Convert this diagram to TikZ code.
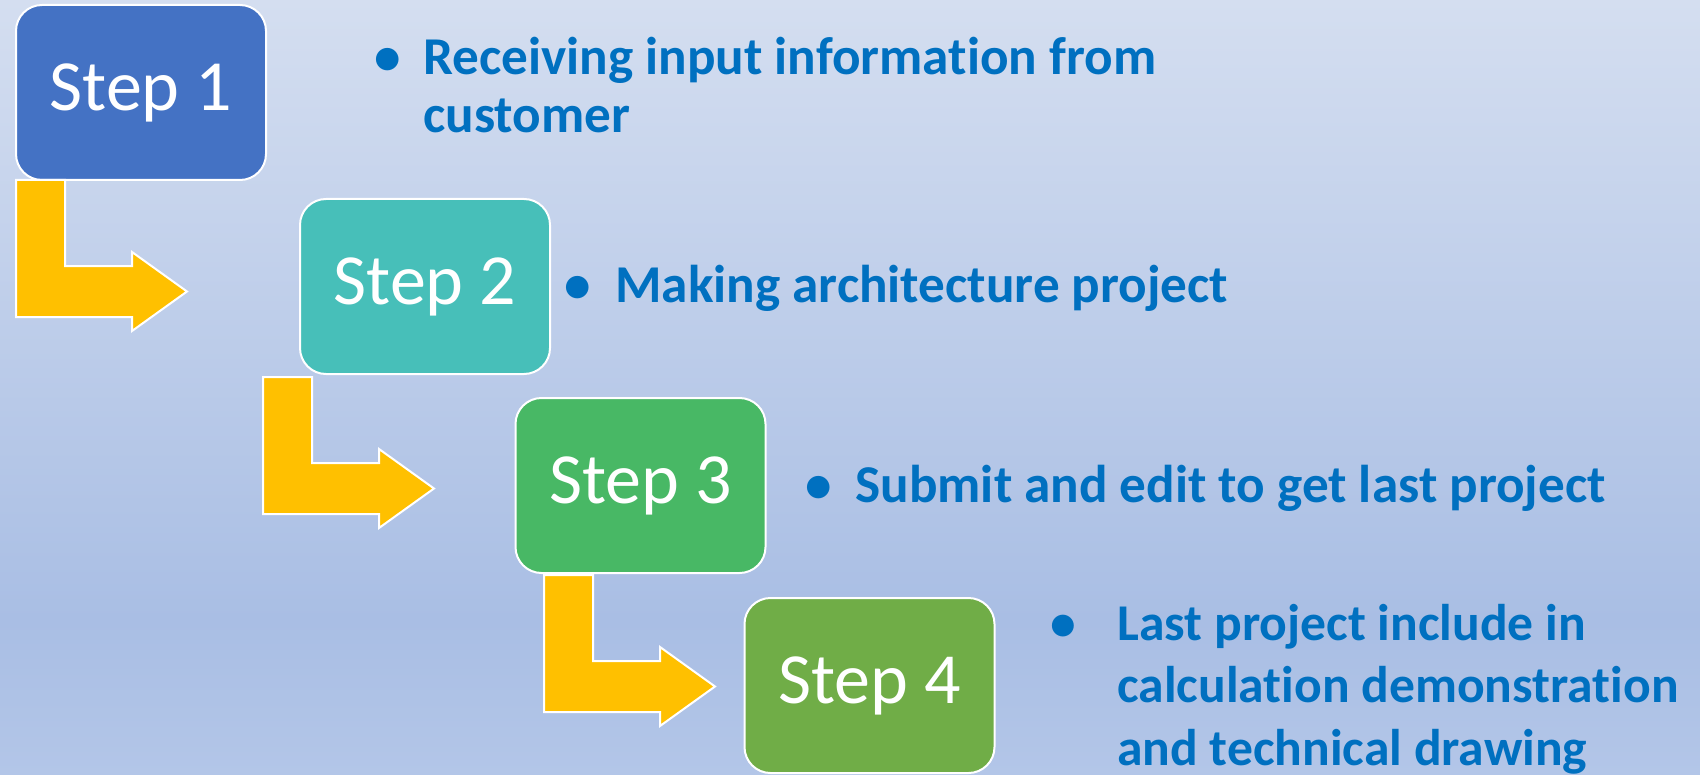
\documentclass[tikz,border=0pt]{standalone}
\usepackage{fontspec}
\setmainfont{Carlito}[Ligatures={NoCommon}]
\usepackage{tikz}

\definecolor{bgtop}{HTML}{D4DEF0}
\definecolor{bgdeep}{HTML}{A9BEE4}
\definecolor{bgbottom}{HTML}{B3C6E8}
\definecolor{stepone}{HTML}{4472C4}
\definecolor{steptwo}{HTML}{47BFB9}
\definecolor{stepthree}{HTML}{48B865}
\definecolor{stepfour}{HTML}{70AD47}
\definecolor{arrowgold}{HTML}{FFC000}
\definecolor{notetext}{HTML}{0070C0}

\pgfdeclareverticalshading{slidebg}{100bp}{color(0bp)=(bgbottom); color(25bp)=(bgbottom);
  color(35bp)=(bgdeep); color(75bp)=(bgtop); color(100bp)=(bgtop)}

\begin{document}
\begin{tikzpicture}[
      x=0.5pt, y=-0.5pt,
      stepbox/.style={draw=white, line width=1pt, rounded corners=13pt,
        minimum width=125pt, minimum height=87.5pt, inner sep=0pt,
        text=white, font=\fontsize{36}{43}\selectfont},
      notebox/.style={anchor=base west, inner sep=0pt, text=notetext},
      bentarrow/.pic={
        \draw[fill=arrowgold, draw=white, line width=1pt]
          (0,0) -- (49,0) -- (49,86) -- (116,86) -- (116,72) -- (171,111.5)
          -- (116,151) -- (116,137) -- (0,137) -- cycle;
      },
      ]
      \useasboundingbox (0,0) rectangle (1700,775);
      \clip (0,0) rectangle (1700,775);
      \shade[shading=slidebg] (0,0) rectangle (1700,775);

      % steps
      \node[stepbox, fill=stepone]   (step1) at (141,92.5)  {Step 1};
      \node[stepbox, fill=steptwo]   (step2) at (425,286.5) {Step 2};
      \node[stepbox, fill=stepthree] (step3) at (640.5,485.5) {Step 3};
      \node[stepbox, fill=stepfour]  (step4) at (869.5,685.5) {Step 4};

      % bent arrows between steps
      \pic at (16,180)  {bentarrow};
      \pic at (263,377) {bentarrow};
      \pic at (544,575) {bentarrow};

      % notes
      \node[notebox, font=\fontsize{26.6}{29}\selectfont\bfseries] (note1) at (387,75)
        {\begin{tabular}[t]{@{}c@{\hspace{18pt}}l@{}}
          \makebox[0pt]{\textbullet} & Receiving input information from\\
          & customer
        \end{tabular}};
      \node[notebox, font=\fontsize{26.6}{33}\selectfont\bfseries] (note2) at (577,302)
        {\begin{tabular}[t]{@{}c@{\hspace{19pt}}l@{}}
          \makebox[0pt]{\textbullet} & Making architecture project
        \end{tabular}};
      \node[notebox, font=\fontsize{26.6}{33}\selectfont\bfseries] (note3) at (818,502)
        {\begin{tabular}[t]{@{}c@{\hspace{18.5pt}}l@{}}
          \makebox[0pt]{\textbullet} & Submit and edit to get last project
        \end{tabular}};
      \node[notebox, font=\fontsize{25.8}{31.25}\selectfont\bfseries] (note4) at (1063,640)
        {\begin{tabular}[t]{@{}c@{\hspace{27pt}}l@{}}
          \makebox[0pt]{\textbullet} & Last project include in\\
          & calculation demonstration\\
          & and technical drawing
        \end{tabular}};
\end{tikzpicture}
\end{document}
